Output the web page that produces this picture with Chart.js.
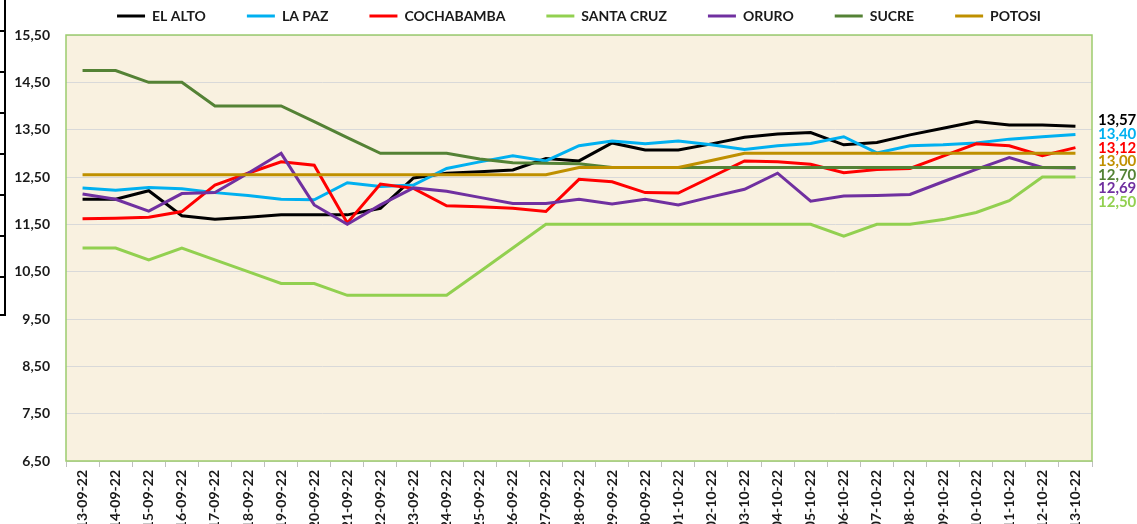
<!DOCTYPE html>
<html>
<head>
<meta charset="utf-8">
<script src="https://cdn.jsdelivr.net/npm/chart.js@4.4.0/dist/chart.umd.min.js"></script>
<style>
    html, body { margin: 0; padding: 0; background: #fff; overflow: hidden; }
    #wrap { width: 1137px; height: 524px; }
</style>
</head>
<body>
<div id="wrap"><canvas id="lineChart" width="1137" height="524"></canvas></div>
<script>
const labels = ['13-09-22', '14-09-22', '15-09-22', '16-09-22', '17-09-22', '18-09-22', '19-09-22', '20-09-22',
    '21-09-22', '22-09-22', '23-09-22', '24-09-22', '25-09-22', '26-09-22', '27-09-22', '28-09-22', '29-09-22',
    '30-09-22', '01-10-22', '02-10-22', '03-10-22', '04-10-22', '05-10-22', '06-10-22', '07-10-22', '08-10-22',
    '09-10-22', '10-10-22', '11-10-22', '12-10-22', '13-10-22'];

const elAlto = [12.03, 12.03, 12.21, 11.68, 11.61, 11.65, 11.70, 11.70, 11.70, 11.84, 12.48, 12.58, 12.61, 12.65, 12.89, 12.84,
    13.22, 13.07, 13.07, 13.20, 13.34, 13.41, 13.44, 13.18, 13.23, 13.39, 13.53, 13.67, 13.60, 13.60, 13.57];
const laPaz = [12.27, 12.22, 12.28, 12.25, 12.17, 12.11, 12.03, 12.02, 12.38, 12.30, 12.33, 12.68, 12.82, 12.95, 12.84, 13.16,
    13.26, 13.20, 13.26, 13.18, 13.08, 13.16, 13.21, 13.35, 13.01, 13.16, 13.18, 13.22, 13.30, 13.35, 13.40];
const cochabamba = [11.62, 11.63, 11.65, 11.77, 12.33, 12.58, 12.82, 12.75, 11.53, 12.35, 12.26, 11.89, 11.87, 11.84, 11.77, 12.45,
    12.40, 12.17, 12.16, 12.50, 12.84, 12.82, 12.77, 12.59, 12.66, 12.68, 12.94, 13.20, 13.16, 12.95, 13.12];
const santaCruz = [11.00, 11.00, 10.75, 11.00, 10.75, 10.50, 10.25, 10.25, 10.00, 10.00, 10.00, 10.00, 10.50, 11.00, 11.50, 11.50,
    11.50, 11.50, 11.50, 11.50, 11.50, 11.50, 11.50, 11.25, 11.50, 11.50, 11.60, 11.75, 12.00, 12.50, 12.50];
const oruro = [12.14, 12.03, 11.78, 12.15, 12.17, 12.58, 13.00, 11.91, 11.50, 11.91, 12.27, 12.20, 12.07, 11.94, 11.94, 12.03,
    11.93, 12.03, 11.91, 12.08, 12.24, 12.58, 11.99, 12.10, 12.11, 12.13, 12.40, 12.66, 12.91, 12.70, 12.69];
const sucre = [14.75, 14.75, 14.50, 14.50, 14.00, 14.00, 14.00, 13.67, 13.33, 13.00, 13.00, 13.00, 12.88, 12.80, 12.79, 12.78,
    12.70, 12.70, 12.70, 12.70, 12.70, 12.70, 12.70, 12.70, 12.70, 12.70, 12.70, 12.70, 12.70, 12.70, 12.70];
const potosi = [12.55, 12.55, 12.55, 12.55, 12.55, 12.55, 12.55, 12.55, 12.55, 12.55, 12.55, 12.55, 12.55, 12.55, 12.55, 12.70,
    12.70, 12.70, 12.70, 12.85, 13.00, 13.00, 13.00, 13.00, 13.00, 13.00, 13.00, 13.00, 13.00, 13.00, 13.00];

const seriesNames = ['EL ALTO', 'LA PAZ', 'COCHABAMBA', 'SANTA CRUZ', 'ORURO', 'SUCRE', 'POTOSI'];
const seriesData = [elAlto, laPaz, cochabamba, santaCruz, oruro, sucre, potosi];
const seriesColors = ['#000000', '#00B0F0', '#FF0000', '#92D050', '#7030A0', '#548235', '#BF9000'];

const fmt = v => v.toFixed(2).replace('.', ',');

// cream plot area like the excel chart
const plotBackground = {
    id: 'plotBackground',
    beforeDraw(chart) {
        const {ctx, chartArea: a} = chart;
        ctx.save();
        ctx.fillStyle = '#F9F1E0';
        ctx.fillRect(a.left, a.top, a.right - a.left, a.bottom - a.top);
        ctx.restore();
    },
    beforeDatasetsDraw(chart) {
        const {ctx, chartArea: a} = chart;
        ctx.save();
        ctx.strokeStyle = '#9CCB6E';
        ctx.lineWidth = 1.5;
        ctx.strokeRect(a.left, a.top, a.right - a.left, a.bottom - a.top);
        ctx.restore();
    }
};

// last value of every series, written to the right of the plot
const endLabels = {
    id: 'endLabels',
    afterDatasetsDraw(chart) {
        const {ctx, chartArea, scales: {y}} = chart;
        const items = chart.data.datasets
            .map(ds => ({v: ds.data[ds.data.length - 1], color: ds.borderColor}))
            .sort((a, b) => b.v - a.v);
        ctx.save();
        ctx.font = 'bold 15px Lato';
        ctx.textBaseline = 'middle';
        let prev = -Infinity;
        items.forEach((it, i) => {
            let py = y.getPixelForValue(it.v);
            if (i === 0) py -= 6;
            py = Math.max(py, prev + 13.5);
            prev = py;
            ctx.fillStyle = it.color;
            ctx.fillText(fmt(it.v), chartArea.right + 6, py);
        });
        ctx.restore();
    }
};

// edge of the neighbouring table cropped into the picture
const leftEdge = {
    id: 'leftEdge',
    afterDraw(chart) {
        const ctx = chart.ctx;
        ctx.save();
        ctx.strokeStyle = '#000';
        ctx.lineWidth = 2;
        ctx.beginPath();
        ctx.moveTo(5, 0);
        ctx.lineTo(5, 316);
        [31, 72, 113, 154, 195, 236, 277, 315].forEach(yy => {
            ctx.moveTo(0, yy);
            ctx.lineTo(5, yy);
        });
        ctx.stroke();
        ctx.restore();
    }
};

const ctx1 = document.getElementById('lineChart');
const lineChart = new Chart(ctx1, {
    type: 'line',
    data: {
        labels: labels,
        datasets: seriesNames.map((name, i) => ({
            label: name,
            data: seriesData[i],
            borderColor: seriesColors[i],
            backgroundColor: seriesColors[i],
            borderWidth: 3,
            pointRadius: 0,
            tension: 0,
            // excel draws the later series on top
            order: seriesNames.length - i
        }))
    },
    plugins: [plotBackground, endLabels, leftEdge],
    options: {
        responsive: false,
        animation: false,
        layout: {
            padding: {top: -32, left: 6, right: 45, bottom: 0}
        },
        plugins: {
            legend: {
                position: 'top',
                fullSize: false,
                weight: 3000,
                labels: {
                    usePointStyle: true,
                    pointStyle: 'line',
                    pointStyleWidth: 28,
                    padding: 41,
                    color: '#1a1a1a',
                    font: {family: 'Lato', size: 14, weight: 'bold'},
                    sort: (a, b) => a.datasetIndex - b.datasetIndex
                }
            },
            // empty spacer between legend and plot
            subtitle: {
                display: true,
                text: '',
                padding: 0,
                font: {size: 2, lineHeight: 1}
            },
            tooltip: {enabled: false}
        },
        scales: {
            x: {
                offset: true,
                grid: {offset: true, drawOnChartArea: false, drawTicks: true, tickLength: 6, color: '#BFBFBF'},
                border: {display: false},
                ticks: {
                    autoSkip: false,
                    maxRotation: 90,
                    minRotation: 90,
                    padding: 3,
                    color: '#1a1a1a',
                    font: {family: 'Lato', size: 14, weight: 'bold'}
                },
                afterFit: s => { s.height = 63; }
            },
            y: {
                min: 6.5,
                max: 15.5,
                grid: {color: '#D9D9D9', drawTicks: false},
                border: {display: false},
                ticks: {
                    stepSize: 1,
                    padding: 16,
                    color: '#1a1a1a',
                    font: {family: 'Lato', size: 14, weight: 'bold'},
                    callback: v => fmt(v)
                },
                afterFit: s => { s.width = 60; }
            }
        }
    }
});
</script>
</body>
</html>
